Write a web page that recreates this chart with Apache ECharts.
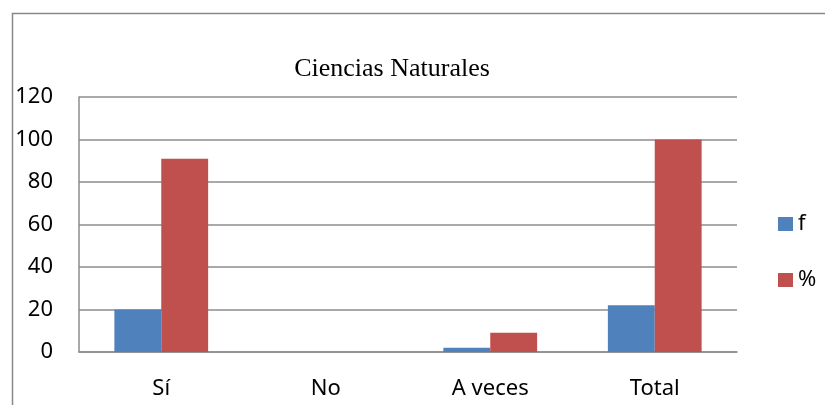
<!DOCTYPE html>
<html lang="es">
<head>
    <meta charset="UTF-8">
    <title>Ciencias Naturales</title>
    <script src="https://cdn.jsdelivr.net/npm/echarts@6/dist/echarts.min.js"></script>
    <style>
        html, body {
            margin: 0;
            padding: 0;
            background: #fff;
        }
    </style>
</head>
<body>
<div id="main" style="width:825px;height:405px;"></div>
<script>
    var categories = ['Sí', 'No', 'A veces', 'Total'];
    var valuesF = [20, 0, 2, 22];
    var valuesPct = [90.9, 0, 9.1, 100];
    var yTicks = {min: 0, max: 120, interval: 20};

    var labelFont = "'Noto Sans', 'Open Sans', sans-serif";
    var lineGray = '#8c8c8c';

    var myChart = echarts.init(document.getElementById('main'));
    var option = {
        animation: false,
        backgroundColor: '#fff',
        title: {
            text: 'Ciencias Naturales',
            left: 387,
            textAlign: 'center',
            top: 51,
            textStyle: {
                fontFamily: "'Liberation Serif', 'DejaVu Serif', serif",
                fontWeight: 'normal',
                fontSize: 26,
                color: '#000'
            }
        },
        // outer frame of the chart (only top and left edges show)
        graphic: [{
            type: 'rect',
            left: 10,
            top: 11,
            shape: {width: 900, height: 500},
            style: {fill: 'none', stroke: '#888', lineWidth: 1.5},
            silent: true
        }],
        legend: {
            orient: 'vertical',
            left: 773,
            top: 208,
            itemWidth: 15,
            itemHeight: 14,
            itemGap: 34,
            icon: 'rect',
            textStyle: {
                fontFamily: labelFont,
                fontSize: 22,
                color: '#000'
            },
            data: ['f', '%']
        },
        grid: {
            left: 79,
            right: 88,
            top: 97,
            bottom: 53,
            containLabel: false
        },
        xAxis: {
            type: 'category',
            data: categories,
            axisLine: {lineStyle: {color: lineGray, width: 1.5}},
            axisTick: {show: false},
            axisLabel: {
                margin: 26,
                fontFamily: labelFont,
                fontSize: 22,
                color: '#000'
            }
        },
        yAxis: {
            type: 'value',
            min: yTicks.min,
            max: yTicks.max,
            interval: yTicks.interval,
            axisLine: {show: true, lineStyle: {color: lineGray, width: 1.5}},
            axisTick: {show: false},
            splitLine: {lineStyle: {color: lineGray, width: 1.5}},
            axisLabel: {
                margin: 26,
                fontFamily: labelFont,
                fontSize: 22,
                color: '#000'
            }
        },
        series: [
            {
                name: 'f',
                type: 'bar',
                data: valuesF,
                barGap: '0%',
                barCategoryGap: '43%',
                itemStyle: {color: '#4F81BD'}
            },
            {
                name: '%',
                type: 'bar',
                data: valuesPct,
                barGap: '0%',
                barCategoryGap: '43%',
                itemStyle: {color: '#C0504D'}
            }
        ]
    };
    myChart.setOption(option);
</script>
</body>
</html>
